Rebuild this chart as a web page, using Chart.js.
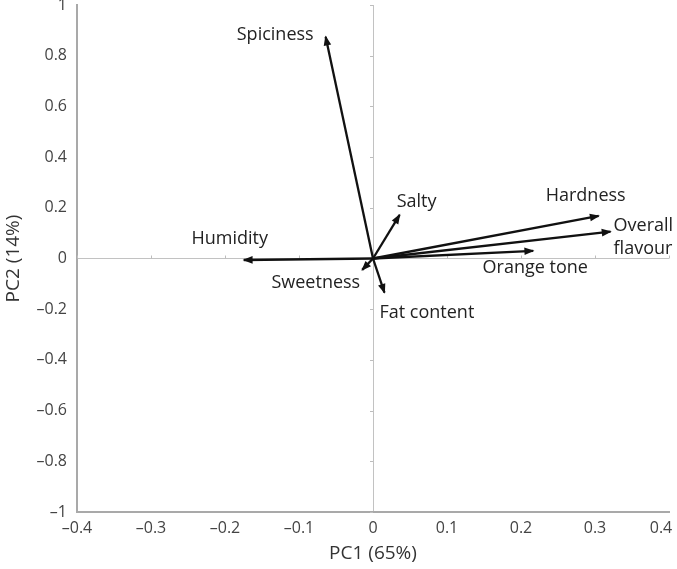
<!DOCTYPE html>
<html>
<head>
<meta charset="utf-8">
<script src="https://cdn.jsdelivr.net/npm/chart.js@4/dist/chart.umd.min.js"></script>
<style>
html,body{margin:0;padding:0;background:#fff;}
#wrap{width:677px;height:569px;position:relative;}
</style>
</head>
<body>
<div id="wrap"><canvas id="c"></canvas></div>
<script>
// ---- data ----
const variables   = ['Spiciness', 'Salty', 'Hardness', 'Overall\nflavour', 'Orange tone', 'Humidity', 'Sweetness', 'Fat content'];
const pc1Loadings = [-0.064, 0.036, 0.305, 0.321, 0.2165, -0.1746, -0.0146, 0.0155];
const pc2Loadings = [0.875, 0.172, 0.168, 0.106, 0.030, -0.006, -0.045, -0.135];
const xTickValues = [-0.4, -0.3, -0.2, -0.1, 0, 0.1, 0.2, 0.3, 0.4];
const yTickValues = [-1, -0.8, -0.6, -0.4, -0.2, 0, 0.2, 0.4, 0.6, 0.8, 1];
const xAxisTitle  = 'PC1 (65%)';
const yAxisTitle  = 'PC2 (14%)';

// ---- styling / label placement (pixels relative to arrow tip) ----
const labelPlacement = [
  {dx: -12, dy: -2,  align: 'right'},
  {dx: -3,  dy: -13, align: 'left'},
  {dx: -13, dy: -20, align: 'center'},
  {dx: 3,   dy: -6,  align: 'left'},
  {dx: 2,   dy: 17,  align: 'center'},
  {dx: -14, dy: -21, align: 'center'},
  {dx: -2,  dy: 13,  align: 'right'},
  {dx: -5,  dy: 20,  align: 'left'}
];
const FONT = "'Open Sans', 'Noto Sans', sans-serif";
const ARROW_COLOR = '#111';

function fmt(v) {
  if (Math.abs(v) < 1e-9) return '0';
  const s = String(Math.round(Math.abs(v) * 10) / 10);
  return (v < 0 ? '\u2013' : '') + s;
}

const arrowPlugin = {
  id: 'arrowsAndLabels',
  afterDatasetsDraw(chart) {
    const ctx = chart.ctx;
    ctx.save();
    chart.data.datasets.forEach((ds, i) => {
      const meta = chart.getDatasetMeta(i);
      const p0 = meta.data[0], p1 = meta.data[1];
      const ang = Math.atan2(p1.y - p0.y, p1.x - p0.x);
      const len = 10, hw = 3.8;
      const tx = p1.x + Math.cos(ang) * 1.2, ty = p1.y + Math.sin(ang) * 1.2;
      const bx = tx - Math.cos(ang) * len, by = ty - Math.sin(ang) * len;
      ctx.beginPath();
      ctx.moveTo(tx, ty);
      ctx.lineTo(bx + Math.sin(ang) * hw, by - Math.cos(ang) * hw);
      ctx.lineTo(bx - Math.sin(ang) * hw, by + Math.cos(ang) * hw);
      ctx.closePath();
      ctx.fillStyle = ARROW_COLOR;
      ctx.fill();
      // label
      const lp = labelPlacement[i];
      ctx.font = "18px " + FONT;
      ctx.fillStyle = '#222';
      ctx.textAlign = lp.align;
      ctx.textBaseline = 'middle';
      const lines = ds.label.split('\n');
      lines.forEach((ln, k) => {
        ctx.fillText(ln, p1.x + lp.dx, p1.y + lp.dy + k * 23);
      });
    });
    ctx.restore();
  },
  beforeDatasetsDraw(chart) {
    // small tick marks on the zero lines
    const ctx = chart.ctx;
    const xs = chart.scales.x, ys = chart.scales.y;
    const x0 = xs.getPixelForValue(0), y0 = ys.getPixelForValue(0);
    ctx.save();
    ctx.strokeStyle = '#bdbdbd';
    ctx.lineWidth = 1;
    ctx.beginPath();
    xTickValues.forEach(v => {
      if (v === 0) return;
      const px = Math.round(xs.getPixelForValue(v)) + 0.5;
      ctx.moveTo(px, y0 - 3); ctx.lineTo(px, y0);
    });
    yTickValues.forEach(v => {
      if (v === 0) return;
      const py = Math.round(ys.getPixelForValue(v)) + 0.5;
      ctx.moveTo(x0 - 3, py); ctx.lineTo(x0, py);
    });
    ctx.stroke();
    ctx.restore();
  }
};

const datasets = variables.map((name, i) => ({
  label: name,
  data: [{x: 0, y: 0}, {x: pc1Loadings[i], y: pc2Loadings[i]}],
  showLine: true,
  borderColor: ARROW_COLOR,
  borderWidth: 2.3,
  pointRadius: 0,
  pointHoverRadius: 0,
  fill: false
}));

new Chart(document.getElementById('c'), {
  type: 'scatter',
  data: {datasets},
  options: {
    responsive: true,
    maintainAspectRatio: false,
    animation: false,
    layout: {padding: {top: 5, right: 8, left: 0, bottom: 0}},
    plugins: {legend: {display: false}, tooltip: {enabled: false}},
    scales: {
      x: {
        type: 'linear',
        min: -0.4, max: 0.4,
        afterBuildTicks: s => { s.ticks = xTickValues.map(v => ({value: v})); },
        afterFit: s => { s.height = 57; s.paddingLeft = 0; s.paddingRight = 0; },
        grid: {
          drawTicks: false,
          lineWidth: 1,
          color: c => (c.tick && c.tick.value === 0) ? '#c2c2c2' : 'rgba(0,0,0,0)'
        },
        border: {display: true, color: '#a9a9a9', width: 2},
        ticks: {
          padding: 7,
          color: '#444',
          font: {family: FONT, size: 16},
          maxRotation: 0,
          autoSkip: false,
          callback: v => v === 0.4 ? fmt(v) + '\u2002\u2002' : fmt(v)
        },
        title: {display: true, text: xAxisTitle, color: '#333', font: {family: FONT, size: 19}, padding: {top: 2, bottom: 4}}
      },
      y: {
        type: 'linear',
        min: -1, max: 1,
        afterBuildTicks: s => { s.ticks = yTickValues.map(v => ({value: v})); },
        afterFit: s => { s.width = 77; s.paddingTop = 0; s.paddingBottom = 0; },
        grid: {
          drawTicks: false,
          lineWidth: 1,
          color: c => (c.tick && c.tick.value === 0) ? '#c2c2c2' : 'rgba(0,0,0,0)'
        },
        border: {display: true, color: '#a9a9a9', width: 2},
        ticks: {
          padding: 10,
          color: '#444',
          font: {family: FONT, size: 16},
          autoSkip: false,
          callback: v => fmt(v)
        },
        title: {display: true, text: yAxisTitle, color: '#333', font: {family: FONT, size: 19}, padding: {top: 2, bottom: 4}}
      }
    }
  },
  plugins: [arrowPlugin]
});
</script>
</body>
</html>
